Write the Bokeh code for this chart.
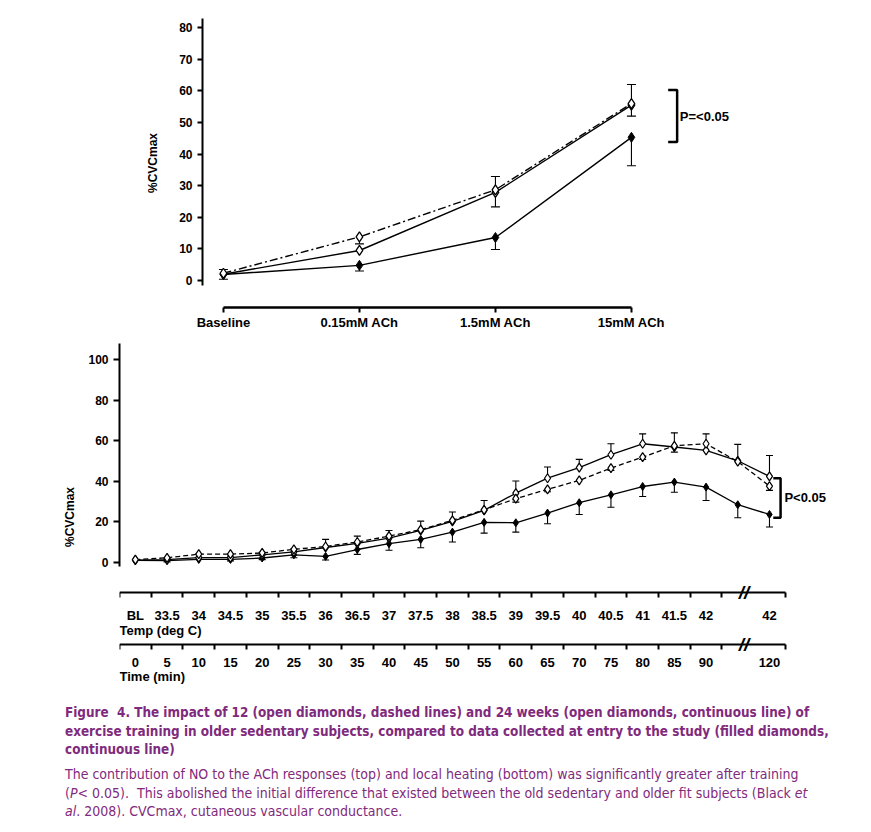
from bokeh.plotting import figure
from bokeh.models import (Range1d, FixedTicker, LinearAxis, ColumnDataSource,
                          Whisker, TeeHead, Div)
from bokeh.embed import file_html
from bokeh.resources import INLINE
from bokeh.core.properties import value

# ---------------- top chart data (ACh dose response, %CVCmax) ----------------
ach_doses = ["Baseline", "0.15mM ACh", "1.5mM ACh", "15mM ACh"]
ach_entry = [1.9, 4.8, 13.6, 45.3]          # filled diamonds, continuous line
ach_entry_err_lo = [0.0, 1.8, 3.8, 9.0]
ach_wk12 = [2.3, 13.8, 28.7, 56.0]          # open diamonds, dashed line
ach_wk12_err_hi = [1.2, 0.0, 4.2, 6.0]
ach_wk12_err_lo = [0.0, 2.2, 0.0, 0.0]
ach_wk24 = [2.0, 9.5, 27.9, 55.5]           # open diamonds, continuous line
ach_wk24_err_lo = [1.6, 0.0, 4.6, 3.5]
ach_yticks = [0, 10, 20, 30, 40, 50, 60, 70, 80]
ach_sig_text = "P=<0.05"
ach_sig_span = [43.8, 60.3]

# ---------------- bottom chart data (local heating, %CVCmax) ----------------
heat_temp_labels = ["BL", "33.5", "34", "34.5", "35", "35.5", "36", "36.5", "37",
                    "37.5", "38", "38.5", "39", "39.5", "40", "40.5", "41", "41.5",
                    "42", "", "42"]
heat_time_labels = ["0", "5", "10", "15", "20", "25", "30", "35", "40", "45", "50",
                    "55", "60", "65", "70", "75", "80", "85", "90", "", "120"]
heat_entry = [0.8, 0.7, 1.3, 1.3, 2.0, 3.6, 2.8, 6.2, 9.1, 11.2, 14.8, 19.6, 19.4,
              24.2, 29.3, 33.2, 37.3, 39.5, 37.0, 28.3, 23.5]
heat_entry_err_lo = [0.0, 0.6, 0.0, 0.7, 0.8, 1.5, 1.8, 2.4, 3.3, 4.1, 4.9, 5.3, 4.6,
                     5.3, 5.8, 6.1, 4.9, 5.0, 6.6, 6.4, 6.2]
heat_wk24 = [1.0, 1.2, 2.2, 2.2, 3.6, 5.0, 7.2, 9.2, 11.8, 15.6, 20.1, 25.5, 34.0,
             41.4, 46.6, 53.0, 58.4, 56.8, 55.1, 50.0, 42.3]
heat_wk24_err_hi = [0.0, 0.5, 1.8, 0.8, 1.2, 1.5, 4.0, 3.6, 3.8, 4.6, 4.6, 4.9, 6.0,
                    5.5, 4.1, 5.4, 4.9, 7.0, 0.0, 8.1, 10.3]
heat_wk12 = [1.2, 2.1, 3.9, 3.9, 4.5, 6.3, 7.7, 9.9, 12.8, 16.0, 20.6, 25.8, 31.3,
             35.9, 40.3, 46.4, 51.8, 57.4, 58.4, 49.6, 37.5]
heat_wk12_err_hi = [0.0] * 18 + [4.9, 0.0, 0.0]
heat_wk12_err_lo = [0.0] * 12 + [1.7, 1.2, 0.0, 1.2, 1.2, 3.1, 0.0, 0.0, 2.1]
heat_yticks = [0, 20, 40, 60, 80, 100]
heat_sig_text = "P<0.05"
heat_sig_span = [21.9, 41.4]
heat_break_at = 19.2
heat_temp_title = "Temp (deg C)"
heat_time_title = "Time (min)"

FONT = "Liberation Sans"


def add_errors(p, xs, ys, errs, up, head):
    keep = [(x, y, e) for x, y, e in zip(xs, ys, errs) if e > 0]
    if not keep:
        return
    bx = [k[0] for k in keep]
    if up:
        lo = [k[1] for k in keep]
        hi = [k[1] + k[2] for k in keep]
        uh, lh = TeeHead(size=head, line_width=1.1), None
    else:
        hi = [k[1] for k in keep]
        lo = [k[1] - k[2] for k in keep]
        uh, lh = None, TeeHead(size=head, line_width=1.1)
    src = ColumnDataSource(dict(x=bx, lo=lo, hi=hi))
    w = Whisker(source=src, base="x", lower="lo", upper="hi",
                upper_head=uh, lower_head=lh, line_width=1.1, line_color="black")
    p.add_layout(w)


def style_axis(ax, size="13px"):
    ax.axis_line_color = "black"
    ax.major_label_text_font = FONT
    ax.major_label_text_font_style = "bold"
    ax.major_label_text_font_size = size
    ax.major_label_text_color = "black"
    ax.axis_label_text_font = FONT
    ax.axis_label_text_font_style = "bold"
    ax.axis_label_text_font_size = size
    ax.axis_label_text_color = "black"


# =============================== top figure ===============================
ach_pos = list(range(len(ach_doses)))
p1 = figure(width=863, height=338, x_range=Range1d(-0.154, 3.949),
            y_range=Range1d(-8.54, 82.9), output_backend="svg",
            toolbar_location=None, min_border_left=202, min_border_right=103,
            min_border_top=18, min_border_bottom=31)
p1.outline_line_color = None
p1.xgrid.visible = False
p1.ygrid.visible = False

xa = p1.xaxis[0]
xa.ticker = FixedTicker(ticks=ach_pos, minor_ticks=[])
xa.major_label_overrides = {i: d for i, d in zip(ach_pos, ach_doses)}
xa.bounds = (ach_pos[0], ach_pos[-1])
xa.major_tick_out = 5
xa.major_tick_in = 0
xa.major_tick_line_width = 2
xa.minor_tick_line_color = None
xa.major_label_standoff = 2
style_axis(xa)
xa.axis_line_width = 2.5

ya = p1.yaxis[0]
ya.ticker = FixedTicker(ticks=ach_yticks, minor_ticks=[])
ya.bounds = (-1.6, 82.9)
ya.major_tick_out = 5
ya.major_tick_in = 0
ya.major_tick_line_width = 2
ya.minor_tick_line_color = None
ya.major_label_standoff = 5
ya.axis_label = "%CVCmax"
ya.axis_label_standoff = 16
style_axis(ya, "12px")
ya.axis_line_width = 2

p1.line(ach_pos, ach_entry, line_color="black", line_width=1.4)
p1.line(ach_pos, ach_wk24, line_color="black", line_width=1.4)
p1.line(ach_pos, ach_wk12, line_color="black", line_width=1.4, line_dash="8 3 2 3")
add_errors(p1, ach_pos, ach_entry, ach_entry_err_lo, False, 9)
add_errors(p1, ach_pos, ach_wk24, ach_wk24_err_lo, False, 9)
add_errors(p1, ach_pos, ach_wk12, ach_wk12_err_hi, True, 9)
add_errors(p1, ach_pos, ach_wk12, ach_wk12_err_lo, False, 9)
p1.scatter(ach_pos, ach_entry, marker="diamond", size=10, fill_color="black",
           line_color="black")
p1.scatter(ach_pos, ach_wk24, marker="diamond", size=10, fill_color="white",
           line_color="black", line_width=1.3)
p1.scatter(ach_pos, ach_wk12, marker="diamond", size=10, fill_color="white",
           line_color="black", line_width=1.3)

bx1 = ach_pos[-1] + 0.336
p1.line([bx1 - 0.066, bx1, bx1, bx1 - 0.066],
        [ach_sig_span[1], ach_sig_span[1], ach_sig_span[0], ach_sig_span[0]],
        line_color="black", line_width=2.5)
p1.text(x=[bx1 + 0.02], y=[sum(ach_sig_span) / 2], text=[ach_sig_text],
        text_font=value(FONT), text_font_style="bold", text_font_size="13px",
        text_baseline="middle", text_align="left", text_color="black")

# =============================== bottom figure ===============================
heat_pos = list(range(len(heat_entry)))
labelled = [i for i in heat_pos if heat_temp_labels[i] != ""]
edge_ticks = [i - 0.5 for i in heat_pos if i - 0.5 < heat_break_at] + [heat_pos[-1] + 0.5]
x_lo, x_hi = -0.5, heat_pos[-1] + 0.5
temp_axis_y = -14.95
time_axis_y = -40.6

p2 = figure(width=863, height=354, x_range=Range1d(x_lo, 22.24),
            y_range=Range1d(-63.4, 107.9), output_backend="svg",
            toolbar_location=None, min_border_left=119, min_border_right=23,
            min_border_top=5, min_border_bottom=2)
p2.outline_line_color = None
p2.xgrid.visible = False
p2.ygrid.visible = False


def setup_cat_axis(ax, labels, loc, standoff):
    ax.ticker = FixedTicker(ticks=labelled, minor_ticks=edge_ticks)
    ax.major_label_overrides = {i: labels[i] for i in labelled}
    ax.bounds = (x_lo, x_hi)
    ax.fixed_location = loc
    ax.major_tick_line_color = None
    ax.major_tick_out = 0
    ax.major_tick_in = 0
    ax.minor_tick_out = 5
    ax.minor_tick_in = 0
    ax.minor_tick_line_width = 2
    ax.major_label_standoff = standoff
    style_axis(ax)
    ax.axis_line_width = 2


ta = p2.xaxis[0]
setup_cat_axis(ta, heat_temp_labels, temp_axis_y, 11)
tm = LinearAxis()
setup_cat_axis(tm, heat_time_labels, time_axis_y, 9)
p2.add_layout(tm, "below")

yb = p2.yaxis[0]
yb.ticker = FixedTicker(ticks=heat_yticks, minor_ticks=[])
yb.bounds = (-2, 107.9)
yb.major_tick_out = 6
yb.major_tick_in = 0
yb.major_tick_line_width = 2
yb.minor_tick_line_color = None
yb.major_label_standoff = 5
yb.axis_label = "%CVCmax"
yb.axis_label_standoff = 8
style_axis(yb, "12px")
yb.axis_line_width = 2

p2.line(heat_pos, heat_entry, line_color="black", line_width=1.3)
p2.line(heat_pos, heat_wk24, line_color="black", line_width=1.3)
p2.line(heat_pos, heat_wk12, line_color="black", line_width=1.3, line_dash="5 3")
add_errors(p2, heat_pos, heat_entry, heat_entry_err_lo, False, 7)
add_errors(p2, heat_pos, heat_wk24, heat_wk24_err_hi, True, 7)
add_errors(p2, heat_pos, heat_wk12, heat_wk12_err_hi, True, 7)
add_errors(p2, heat_pos, heat_wk12, heat_wk12_err_lo, False, 7)
p2.scatter(heat_pos, heat_entry, marker="diamond", size=8, fill_color="black",
           line_color="black")
p2.scatter(heat_pos, heat_wk24, marker="diamond", size=9, fill_color="white",
           line_color="black", line_width=1.2)
p2.scatter(heat_pos, heat_wk12, marker="diamond", size=9, fill_color="white",
           line_color="black", line_width=1.2)

bx2 = heat_pos[-1] + 0.35
p2.line([bx2 - 0.23, bx2, bx2, bx2 - 0.23],
        [heat_sig_span[1], heat_sig_span[1], heat_sig_span[0], heat_sig_span[0]],
        line_color="black", line_width=2.5)
p2.text(x=[bx2 + 0.12], y=[sum(heat_sig_span) / 2], text=[heat_sig_text],
        text_font=value(FONT), text_font_style="bold", text_font_size="13px",
        text_baseline="middle", text_align="left", text_color="black")

# axis break marks and axis titles
p2.text(x=[heat_break_at, heat_break_at], y=[temp_axis_y, time_axis_y],
        text=["//", "//"], text_font=value(FONT), text_font_style="bold italic",
        text_font_size="19px", text_align="center", text_baseline="middle",
        text_color="black")
p2.text(x=[x_lo, x_lo], y=[temp_axis_y - 18.6, time_axis_y - 16.0],
        text=[heat_temp_title, heat_time_title], text_font=value(FONT),
        text_font_style="bold", text_font_size="13px", text_align="left",
        text_baseline="middle", text_color="black")

# =============================== caption ===============================
caption = (
    '<div style="font-family:\'DejaVu Sans Condensed\',\'Liberation Sans Narrow\','
    '\'Open Sans\',sans-serif;font-stretch:condensed;line-height:18.5px;'
    'color:#7f2a7d;padding-left:60px;padding-top:7px;white-space:nowrap">'
    '<div style="font-weight:bold;font-size:13.4px">Figure&nbsp; 4. The impact of 12 (open diamonds, dashed lines) '
    'and 24 weeks (open diamonds, continuous line) of<br>exercise training in older sedentary '
    'subjects, compared to data collected at entry to the study (filled diamonds,<br>continuous line)</div>'
    '<div style="margin-top:5.5px;font-size:14px">The contribution of NO to the ACh responses (top) and local heating '
    '(bottom) was significantly greater after training<br>(<i>P</i>&lt; 0.05).&nbsp; This abolished the '
    'initial difference that existed between the old sedentary and older fit subjects (Black <i>et</i>'
    '<br><i>al</i>. 2008). CVCmax, cutaneous vascular conductance.</div></div>'
)
cap = Div(text=caption, width=863, height=128)

open("out.html", "w").write(file_html([p1, p2, cap], INLINE))
